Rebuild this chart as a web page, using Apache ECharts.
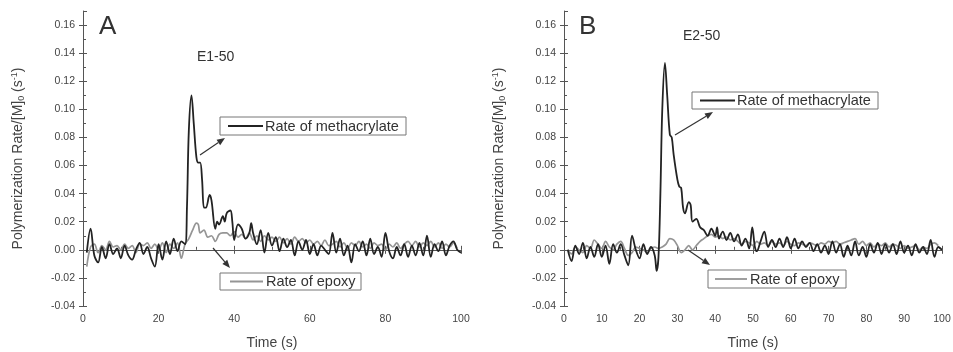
<!DOCTYPE html>
<html><head><meta charset="utf-8">
<script src="https://cdn.jsdelivr.net/npm/echarts@6/dist/echarts.min.js"></script>
<style>html,body{margin:0;padding:0;background:#fff}#c{width:953px;height:352px}</style>
</head><body><div id="c"></div>
<script>
// ---------- DATA ----------
const timeMethA = [1,2,3,4,5,6,7,8,9,10,11,12,13,14,15,16,17,18,19,20,21,22,23,24,25,26,27,27.5,28,28.7,29.3,30,30.5,31,31.5,32,32.5,33.5,34,35,35.5,36,37,37.5,38,39,39.5,40,41,42,43,44,44.5,45,46,47,48,49,50,51,52,53,54,55,56,57,58,59,60,61,62,63,64,65,66,67,68,69,70,71,72,73,74,75,76,77,78,79,80,81,82,83,84,85,86,87,88,89,90,91,92,93,94,95,96,97,98,99,100];
const methA = [-0.002,0.015,-0.004,-0.009,0.002,-0.006,0.004,-0.003,0.001,-0.006,0.003,-0.004,-0.007,0.000,0.005,-0.003,0.002,-0.006,-0.012,0.004,-0.007,0.006,-0.003,0.008,-0.001,0.006,0.004,0.03,0.085,0.110,0.090,0.066,0.062,0.062,0.050,0.030,0.030,0.039,0.035,0.015,0.020,0.018,0.024,0.020,0.026,0.028,0.020,0.007,0.018,0.015,0.008,0.012,0.019,0.012,0.004,0.014,-0.002,0.012,0.003,0.009,-0.001,0.008,0.002,0.007,-0.004,0.006,0.000,0.007,-0.003,0.004,-0.004,0.003,0.000,-0.003,0.012,-0.002,0.008,-0.004,0.003,-0.009,0.004,-0.001,0.006,-0.004,0.008,-0.003,0.002,-0.005,0.012,-0.001,-0.006,0.002,-0.004,0.004,-0.005,0.003,-0.004,0.005,-0.004,0.010,-0.005,0.004,-0.001,0.006,-0.004,0.003,0.006,0.000,-0.002];
const timeEpoxyA = [1,2,3,4,5,6,7,8,9,10,11,12,13,14,15,16,17,18,19,20,21,22,23,24,25,26,27,28,29,30,30.5,31,32,33,34,35,36,37,38,39,40,41,42,43,44,45,46,47,48,49,50,51,52,53,54,55,56,57,58,59,60,61,62,63,64,65,66,67,68,69,70,71,72,73,74,75,76,77,78,79,80,81,82,83,84,85,86,87,88,89,90,91,92,93,94,95,96,97,98,99];
const epoxyA = [-0.012,0.002,0.004,-0.002,0.003,0.000,0.006,0.002,0.003,0.000,0.004,0.001,0.003,-0.002,0.004,0.003,0.005,0.001,0.004,0.000,0.005,-0.002,0.004,0.001,0.005,-0.006,0.004,0.008,0.014,0.019,0.018,0.012,0.014,0.009,0.010,0.006,0.011,0.012,0.012,0.010,0.013,0.009,0.011,0.008,0.012,0.007,0.010,0.006,0.010,0.007,0.009,0.006,0.009,0.005,0.008,0.004,0.009,0.006,0.008,0.005,0.007,0.004,0.006,0.003,0.007,0.003,0.004,0.006,0.002,0.005,0.001,0.005,0.003,0.006,0.002,0.004,0.001,0.005,0.003,0.004,0.000,0.004,0.002,0.005,0.001,0.004,0.006,0.003,0.006,0.002,0.005,0.003,0.006,0.002,0.005,0.001,0.004,0.002,0.005,0.001];

const timeMethB = [1,2,3,4,5,6,7,8,9,10,11,12,13,14,15,16,17,18,19,20,21,22,23,24,24.5,25,25.5,26,26.7,27.3,28,28.5,29,30,30.5,31,31.5,32,33,33.5,34,35,36,37,38,39,40,40.5,41,42,43,44,45,46,47,48,49,49.8,50.5,51,52,53,54,55,56,57,58,59,60,61,62,63,64,65,66,67,68,69,70,71,72,73,74,75,76,77,78,79,80,81,82,83,84,85,86,87,88,89,90,91,92,93,94,95,96,97,98,99,100];
const methB = [0.000,-0.008,0.003,-0.003,0.005,-0.006,0.002,-0.005,0.004,-0.005,0.003,-0.010,0.004,-0.002,0.004,-0.004,-0.011,0.010,0.000,-0.006,0.004,-0.003,0.002,-0.004,-0.015,-0.005,0.040,0.100,0.133,0.110,0.082,0.080,0.068,0.050,0.045,0.044,0.030,0.026,0.034,0.032,0.020,0.022,0.016,0.014,0.010,0.015,0.010,0.016,0.008,0.013,0.007,0.012,0.006,0.011,0.003,0.008,0.001,0.016,0.002,-0.001,0.006,0.013,0.002,0.007,0.002,0.008,0.002,0.009,0.001,0.008,0.001,0.006,0.002,0.005,-0.001,0.004,-0.002,0.003,-0.003,0.006,-0.002,0.004,-0.005,0.003,-0.004,0.006,-0.004,0.002,-0.005,0.004,-0.002,0.005,-0.003,0.004,-0.002,0.004,-0.003,0.006,-0.002,0.003,-0.004,0.004,-0.002,0.002,-0.003,0.007,-0.005,0.002,0.000];
const timeEpoxyB = [1,2,3,4,5,6,7,8,9,10,11,12,13,14,15,16,17,18,19,20,21,22,23,24,25,26,27,28,29,30,31,32,33,34,35,36,37,38,39,40,41,42,43,44,45,46,47,48,49,50,51,52,53,54,55,56,57,58,59,60,61,62,63,64,65,66,67,68,69,70,71,72,73,74,75,76,77,78,79,80,81,82,83,84,85,86,87,88,89,90,91,92,93,94,95,96,97,98,99];
const epoxyB = [0.000,-0.003,0.002,0.000,-0.002,0.003,0.001,0.007,0.004,0.001,0.006,0.002,0.000,0.004,0.006,0.001,-0.004,-0.002,0.002,0.001,0.000,-0.002,0.001,0.002,0.001,0.002,0.004,0.008,0.007,0.003,-0.002,0.000,0.003,0.000,0.003,0.006,0.008,0.010,0.011,0.009,0.010,0.008,0.009,0.007,0.008,0.006,0.004,0.006,0.005,0.003,0.006,0.004,0.005,0.003,0.006,0.004,0.005,0.003,0.006,0.004,0.003,0.005,0.004,0.003,0.005,0.004,0.003,0.005,0.004,0.006,0.005,0.006,0.004,0.005,0.006,0.007,0.008,0.004,0.006,0.003,0.005,0.002,0.004,0.003,0.005,0.002,0.004,0.003,0.001,0.003,0.001,0.002,0.003,0.000,0.002,0.001,0.004,0.005,0.003];

const yTicks = {min: -0.04, max: 0.17, interval: 0.02};
const panelLetters = ['A', 'B'];
const sampleNames = ['E1-50', 'E2-50'];
const seriesNames = ['Rate of methacrylate', 'Rate of epoxy'];

// ---------- CHART ----------
const FONT = 'Liberation Sans, Arial, sans-serif';
const AX = '#555';
const TXT = '#444';
const chart = echarts.init(document.getElementById('c'), null, {renderer: 'canvas'});
const zip = (t, v) => t.map((x, i) => [x, v[i]]);

const grids = [
  {left: 83, top: 11, width: 378, height: 295, containLabel: false, outerBoundsMode: 'none'},
  {left: 564, top: 11, width: 378, height: 295, containLabel: false, outerBoundsMode: 'none'}
];
const xIntervals = [20, 10];

const xAxes = [], yAxes = [];
[0, 1].forEach(g => {
  xAxes.push({
    type: 'value', gridIndex: g, min: 0, max: 100, interval: xIntervals[g],
    name: 'Time (s)', nameLocation: 'middle', nameGap: 30,
    nameTextStyle: {fontFamily: FONT, fontSize: 14, color: TXT},
    axisLine: {show: true, lineStyle: {color: AX, width: 1}},
    axisTick: {show: true, inside: false, length: 4, lineStyle: {color: AX}},
    axisLabel: {fontFamily: FONT, fontSize: 10.5, color: TXT, margin: 8},
    splitLine: {show: false}
  });
  xAxes.push({
    type: 'value', gridIndex: g, min: 0, max: 100, interval: xIntervals[g], position: 'bottom',
    axisLine: {show: false}, axisLabel: {show: false}, splitLine: {show: false},
    axisTick: {show: true, inside: true, length: 4, lineStyle: {color: AX}},
    minorTick: {show: true, splitNumber: 2, length: 3, lineStyle: {color: AX}}
  });
  yAxes.push({
    type: 'value', gridIndex: g, min: yTicks.min, max: yTicks.max, interval: yTicks.interval,
    name: '{n|Polymerization Rate/[M]}{sub|0}{n| (s}{sup|-1}{n|)}',
    nameLocation: 'middle', nameGap: 57, nameRotate: 90,
    nameTextStyle: {rich: {
      n: {fontFamily: FONT, fontSize: 14, color: TXT},
      sub: {fontFamily: FONT, fontSize: 9, color: TXT, verticalAlign: 'bottom', padding: [7, 0, 0, 0]},
      sup: {fontFamily: FONT, fontSize: 9, color: TXT, verticalAlign: 'top', padding: [0, 0, 7, 0]}
    }},
    axisLine: {show: true, lineStyle: {color: AX, width: 1}},
    axisTick: {show: true, inside: false, length: 4, lineStyle: {color: AX}},
    axisLabel: {fontFamily: FONT, fontSize: 10.5, color: TXT, margin: 8, showMaxLabel: false,
      formatter: v => v.toFixed(2)},
    splitLine: {show: false}
  });
  yAxes.push({
    type: 'value', gridIndex: g, min: yTicks.min, max: yTicks.max, interval: yTicks.interval, position: 'left',
    axisLine: {show: false}, axisLabel: {show: false}, splitLine: {show: false},
    axisTick: {show: true, inside: true, length: 4, lineStyle: {color: AX}},
    minorTick: {show: true, splitNumber: 2, length: 3, lineStyle: {color: AX}}
  });
});

function line(name, data, g, color, width, z) {
  return {
    name, type: 'line', data, xAxisIndex: g * 2, yAxisIndex: g * 2,
    showSymbol: false, smooth: 0.35, z,
    lineStyle: {color, width}, itemStyle: {color}, animation: false
  };
}

const BLACK = '#232323', GREY = '#959595';
const series = [
  line(seriesNames[1], zip(timeEpoxyA, epoxyA), 0, GREY, 1.7, 2),
  line(seriesNames[0], zip(timeMethA, methA), 0, BLACK, 1.8, 3),
  line(seriesNames[1], zip(timeEpoxyB, epoxyB), 1, GREY, 1.7, 2),
  line(seriesNames[0], zip(timeMethB, methB), 1, BLACK, 1.8, 3)
];

function arrow(x1, y1, x2, y2) {
  const a = Math.atan2(y2 - y1, x2 - x1), L = 8, W = 3.2;
  const bx = x2 - L * Math.cos(a), by = y2 - L * Math.sin(a);
  const px = -Math.sin(a) * W, py = Math.cos(a) * W;
  return [
    {type: 'line', shape: {x1, y1, x2: bx, y2: by}, style: {stroke: '#333', lineWidth: 1.2}, z: 10},
    {type: 'polygon', shape: {points: [[x2, y2], [bx + px, by + py], [bx - px, by - py]]}, style: {fill: '#333'}, z: 10}
  ];
}

function legendBox(x, y, w, h, lx1, lx2, tx, label, color) {
  return [
    {type: 'rect', shape: {x, y, width: w, height: h}, style: {fill: '#fff', stroke: '#777', lineWidth: 1}, z: 10},
    {type: 'line', shape: {x1: lx1, y1: y + h / 2, x2: lx2, y2: y + h / 2}, style: {stroke: color, lineWidth: 1.8}, z: 11},
    {type: 'text', x: tx, y: y + h / 2 + 0.5, style: {text: label, fontFamily: FONT, fontSize: 14.5, fill: '#333', verticalAlign: 'middle'}, z: 11}
  ];
}

const graphic = [
  {type: 'text', x: 99, y: 14, style: {text: panelLetters[0], fontFamily: FONT, fontSize: 26, fill: '#333'}},
  {type: 'text', x: 579, y: 14, style: {text: panelLetters[1], fontFamily: FONT, fontSize: 26, fill: '#333'}},
  {type: 'text', x: 197, y: 57, style: {text: sampleNames[0], fontFamily: FONT, fontSize: 14, fill: '#333', verticalAlign: 'middle'}},
  {type: 'text', x: 683, y: 36, style: {text: sampleNames[1], fontFamily: FONT, fontSize: 14, fill: '#333', verticalAlign: 'middle'}},
  ...legendBox(220, 117, 186, 18, 228, 263, 265, seriesNames[0], BLACK),
  ...legendBox(220, 273, 141, 17, 230, 263, 266, seriesNames[1], GREY),
  ...legendBox(692, 92, 186, 17, 700, 735, 737, seriesNames[0], BLACK),
  ...legendBox(708, 270, 138, 18, 715, 747, 750, seriesNames[1], GREY),
  ...arrow(200, 155, 225, 138),
  ...arrow(213, 248, 230, 268),
  ...arrow(675, 135, 713, 112),
  ...arrow(688, 250, 710, 265)
];

chart.setOption({
  animation: false,
  backgroundColor: '#fff',
  grid: grids,
  xAxis: xAxes,
  yAxis: yAxes,
  series,
  graphic
});
</script></body></html>
